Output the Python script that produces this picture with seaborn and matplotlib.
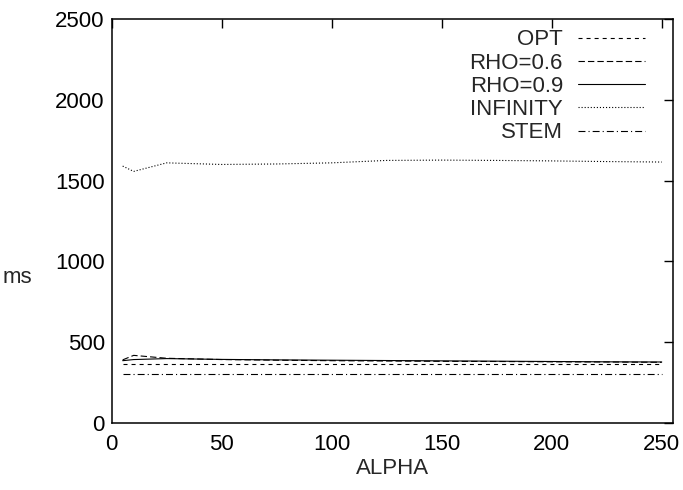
import pandas as pd
import seaborn as sns
import matplotlib.pyplot as plt

# values
alpha = [5, 10, 25, 50, 75, 100, 125, 150, 175, 200, 225, 250]
opt = [362, 362, 362, 362, 362, 362, 362, 362, 362, 362, 362, 362]
rho06 = [390, 418, 400, 392, 388, 385, 383, 381, 380, 378, 377, 375]
rho09 = [385, 392, 398, 393, 390, 388, 386, 384, 382, 380, 378, 377]
infinity = [1590, 1557, 1610, 1600, 1603, 1610, 1625, 1627, 1625, 1622, 1618, 1615]
stem = [300, 300, 300, 300, 300, 300, 300, 300, 300, 300, 300, 300]

labels = ['OPT', 'RHO=0.6', 'RHO=0.9', 'INFINITY', 'STEM']
series = [opt, rho06, rho09, infinity, stem]
styles = [(0, (2.9, 2.9)), (0, (4.6, 2.2)), '-', (0, (0.8, 1.4)), (0, (5, 2.2, 0.8, 2.2))]

sns.set_style('white')
plt.rcParams['font.family'] = ['Liberation Sans', 'DejaVu Sans']
plt.rcParams['lines.scale_dashes'] = False

fig = plt.figure(figsize=(6.83, 4.90), dpi=100)
ax = fig.add_axes([0.1635, 0.137, 0.8215, 0.824])

for lab, vals, ls in zip(labels, series, styles):
    df = pd.DataFrame({'ALPHA': alpha, 'ms': vals})
    sns.lineplot(data=df, x='ALPHA', y='ms', ax=ax, color='black',
                 linewidth=0.8, linestyle=ls, label=lab)

ax.set_xlim(0, 255)
ax.set_ylim(0, 2500)
ax.set_xticks([0, 50, 100, 150, 200, 250])
ax.set_yticks([0, 500, 1000, 1500, 2000, 2500])
ax.tick_params(direction='in', length=6.5, width=1, labelsize=16,
               top=True, right=True, colors='black')
ax.tick_params(axis='x', pad=8)
ax.tick_params(axis='y', pad=5)
for sp in ax.spines.values():
    sp.set_color('black')
    sp.set_linewidth(1.1)

ax.set_xlabel('ALPHA', fontsize=16, labelpad=2)
ax.set_ylabel('ms', fontsize=16, rotation=0)
ax.yaxis.set_label_coords(-0.168, 0.335)

leg = ax.legend(loc='upper right', bbox_to_anchor=(0.944, 0.94),
                bbox_transform=fig.transFigure, frameon=False, fontsize=16,
                markerfirst=False, handlelength=3.0, handletextpad=0.68,
                labelspacing=0.1, borderpad=0, borderaxespad=0)

plt.savefig('out.png', dpi=100)
